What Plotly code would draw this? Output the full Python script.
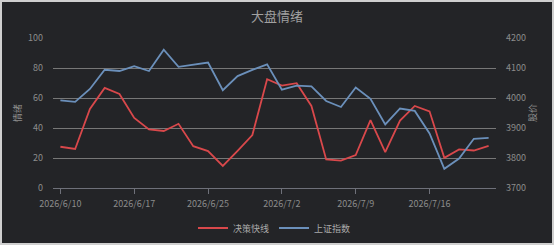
import plotly.graph_objects as go

dates = ["2026/6/10", "2026/6/11", "2026/6/12", "2026/6/15", "2026/6/16", "2026/6/17",
         "2026/6/18", "2026/6/22", "2026/6/23", "2026/6/24", "2026/6/25", "2026/6/26",
         "2026/6/29", "2026/6/30", "2026/7/1", "2026/7/2", "2026/7/3", "2026/7/6",
         "2026/7/7", "2026/7/8", "2026/7/9", "2026/7/10", "2026/7/13", "2026/7/14",
         "2026/7/15", "2026/7/16", "2026/7/17", "2026/7/20", "2026/7/21", "2026/7/22"]

sentiment = [27.5, 26, 52.7, 66.7, 62.7, 46.7, 39, 38, 42.8, 27.9, 24.6, 14.7,
             24.8, 35.3, 72.5, 68.3, 69.9, 54.7, 19, 18.3, 21.9, 45.3, 23.9, 44.9,
             54.7, 51.1, 20.1, 25.7, 25, 28.1]

index_vals = [3992, 3987, 4030, 4094, 4090, 4106, 4090, 4161, 4104, 4110, 4118, 4026,
              4073, 4094, 4112, 4028, 4041, 4039, 3990, 3970, 4035, 3997, 3912, 3965,
              3957, 3882, 3764, 3798, 3864, 3867]

tick_dates = ["2026/6/10", "2026/6/17", "2026/6/25", "2026/7/2", "2026/7/9", "2026/7/16"]

FONT = "Noto Sans CJK SC"
BG = "#232427"
TXT = "#8c8c8c"

fig = go.Figure()
fig.add_trace(go.Scatter(x=dates, y=sentiment, name="决策快线", mode="lines",
                         line=dict(color="#d9484b", width=1.8), yaxis="y"))
fig.add_trace(go.Scatter(x=dates, y=index_vals, name="上证指数", mode="lines",
                         line=dict(color="#6b90bb", width=1.8), yaxis="y2"))

W, H = 554, 245
L, R, T, B = 53, 58, 38, 57
pw, ph = W - L - R, H - T - B

def px(x):
    return (x - L) / pw

def py(y):
    return (H - B - y) / ph

fig.update_layout(
    width=W, height=H,
    margin=dict(l=L, r=R, t=T, b=B, autoexpand=False),
    paper_bgcolor="#cfcfcf",
    plot_bgcolor="rgba(0,0,0,0)",
    font=dict(family=FONT, size=9, color=TXT),
    title=dict(text="大盘情绪", x=0.5, xref="container", xanchor="center",
               y=1 - 16 / H, yref="container", yanchor="middle",
               font=dict(size=13, color="#a0a0a0", family=FONT)),
    shapes=[dict(type="rect", xref="paper", yref="paper",
                 x0=px(2), x1=px(552), y0=py(243), y1=py(2),
                 fillcolor=BG, line=dict(width=0), layer="below")],
    xaxis=dict(type="category", range=[-0.5, len(dates) - 0.5],
               tickmode="array", tickvals=tick_dates, ticktext=tick_dates,
               ticks="outside", ticklen=5, tickcolor="#6e7079",
               showline=True, linecolor="#6e7079", linewidth=1,
               showgrid=False, zeroline=False, automargin=False,
               tickfont=dict(size=9, color=TXT), ticklabelstandoff=2),
    yaxis=dict(range=[0, 100], dtick=20, tick0=0, showgrid=True,
               gridcolor="#777777", gridwidth=1, zeroline=False, showline=False,
               automargin=False,
               tickfont=dict(size=9, color=TXT), ticklabelstandoff=9,
               title=dict(text="情绪", font=dict(size=9, color=TXT), standoff=4)),
    yaxis2=dict(range=[3700, 4200], dtick=100, tick0=3700, overlaying="y", side="right",
                showgrid=False, zeroline=False, showline=False, automargin=False,
                tickfont=dict(size=9, color=TXT), ticklabelstandoff=9,
                title=dict(text="股价", font=dict(size=9, color=TXT), standoff=4)),
    legend=dict(orientation="h", x=0.5, xanchor="center", y=py(228), yanchor="middle",
                font=dict(size=9, color="#aaaaaa"), itemwidth=30,
                bgcolor="rgba(0,0,0,0)"),
    showlegend=True,
)

fig.write_html("out.html")
